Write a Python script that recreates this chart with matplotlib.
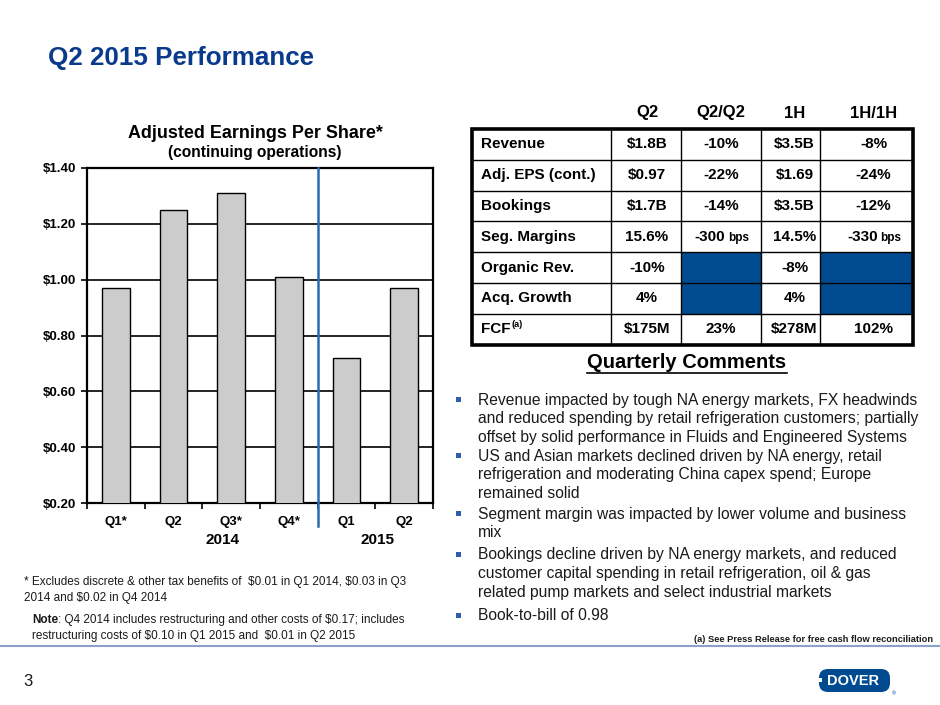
import numpy as np
import matplotlib
matplotlib.use('Agg')
import matplotlib.pyplot as plt
from matplotlib.patches import Rectangle, FancyBboxPatch

plt.rcParams['font.family'] = ['Liberation Sans', 'DejaVu Sans']

# ---- datos ----
quarters = ['Q1*', 'Q2', 'Q3*', 'Q4*', 'Q1', 'Q2']
years = ['2014', '2015']
eps = [0.97, 1.25, 1.31, 1.01, 0.72, 0.97]

col_heads = ['Q2', 'Q2/Q2', '1H', '1H/1H']
row_labels = ['Revenue', 'Adj. EPS (cont.)', 'Bookings', 'Seg. Margins',
              'Organic Rev.', 'Acq. Growth', 'FCF']
q2_vals = ['$1.8B', '$0.97', '$1.7B', '15.6%', '-10%', '4%', '$175M']
q2q2_vals = ['-10%', '-22%', '-14%', '-300 bps', None, None, '23%']
h1_vals = ['$3.5B', '$1.69', '$3.5B', '14.5%', '-8%', '4%', '$278M']
h1h1_vals = ['-8%', '-24%', '-12%', '-330 bps', None, None, '102%']

bullets = [
    ['Revenue impacted by tough NA energy markets, FX headwinds',
     'and reduced spending by retail refrigeration customers; partially',
     'offset by solid performance in Fluids and Engineered Systems'],
    ['US and Asian markets declined driven by NA energy, retail',
     'refrigeration and moderating China capex spend; Europe',
     'remained solid'],
    ['Segment margin was impacted by lower volume and business',
     'mix'],
    ['Bookings decline driven by NA energy markets, and reduced',
     'customer capital spending in retail refrigeration, oil & gas',
     'related pump markets and select industrial markets'],
    ['Book-to-bill of 0.98'],
]

NAVY = '#0a3a8c'
BLUE = '#004a8f'
TXT = '#1a1a1a'

fig = plt.figure(figsize=(9.4, 7.05), dpi=100)

# capa en pixeles para el resto de la diapositiva
ax0 = fig.add_axes([0, 0, 1, 1])
ax0.set_xlim(0, 940)
ax0.set_ylim(705, 0)
ax0.axis('off')

ax0.text(48, 58, 'Q2 2015 Performance', fontsize=18.7, fontweight='bold',
         color=NAVY, va='center', ha='left')

# ---- grafico de barras ----
L, R, T, B = 87, 433, 168, 503
ax = fig.add_axes([L / 940, 1 - B / 705, (R - L) / 940, (B - T) / 705])
x = np.arange(len(eps))
ax.bar(x, eps, width=0.48, color='#cccccc', edgecolor='black',
       linewidth=1.0, zorder=3, bottom=0)
ax.set_xlim(-0.5, len(eps) - 0.5)
ax.set_ylim(0.2, 1.4)
ax.set_yticks(np.arange(0.2, 1.41, 0.2))
ax.set_yticklabels(['$%.2f' % v for v in np.arange(0.2, 1.41, 0.2)],
                   fontsize=9.5, fontweight='bold')
ax.yaxis.grid(True, color='black', linewidth=1.2, zorder=1)
ax.set_axisbelow(True)
ax.set_xticks(x)
ax.set_xticklabels(quarters, fontsize=9.5, fontweight='bold')
ax.set_xticks(np.arange(-0.5, len(eps), 1), minor=True)
ax.tick_params(axis='x', which='major', length=0, pad=9)
ax.tick_params(axis='x', which='minor', length=4, width=1.2, direction='out')
ax.tick_params(axis='y', length=4, width=1.2, pad=4)
for s in ax.spines.values():
    s.set_linewidth(1.6)
ax.axvline(3.5, ymin=-0.07, ymax=1, color='#2e6aad', linewidth=1.8,
           clip_on=False, zorder=4)
for yr, xp in zip(years, [1.85, 4.53]):
    ax.text(xp, -0.11, yr, transform=ax.get_xaxis_transform(), ha='center',
            va='center', fontsize=11, fontweight='bold')

ax0.text(255, 133, 'Adjusted Earnings Per Share*', fontsize=12.9,
         fontweight='bold', ha='center', va='center')
ax0.text(255, 153, '(continuing operations)', fontsize=11.2,
         fontweight='bold', ha='center', va='center')

# ---- tabla ----
col_x = [472, 611, 681, 761, 820, 913]
row_y = np.linspace(129, 344.5, len(row_labels) + 1)
cols = [q2_vals, q2q2_vals, h1_vals, h1h1_vals]
col_shift = [1, 0, 4, 7]

for j, h in enumerate(col_heads):
    ax0.text((col_x[j + 1] + col_x[j + 2]) / 2 + col_shift[j], 113, h,
             fontsize=12, fontweight='bold', ha='center', va='center')

for i, lab in enumerate(row_labels):
    yc = (row_y[i] + row_y[i + 1]) / 2
    ax0.text(481, yc, lab, fontsize=11, fontweight='bold', ha='left',
             va='center')
    if lab == 'FCF':
        ax0.text(511, yc - 5, '(a)', fontsize=6.5, fontweight='bold',
                 ha='left', va='center')
    for j, vals in enumerate(cols):
        x0, x1 = col_x[j + 1], col_x[j + 2]
        xc = (x0 + x1) / 2 + col_shift[j]
        v = vals[i]
        if v is None:
            ax0.add_patch(Rectangle((x0, row_y[i]), x1 - x0,
                                    row_y[i + 1] - row_y[i],
                                    facecolor=BLUE, edgecolor='none'))
        elif v.endswith(' bps'):
            ax0.text(xc + 4, yc, v.split()[0], fontsize=11,
                     fontweight='bold', ha='right', va='center')
            ax0.text(xc + 7, yc + 1, 'bps', fontsize=8.5,
                     fontweight='bold', ha='left', va='center')
        else:
            ax0.text(xc, yc, v, fontsize=11, fontweight='bold',
                     ha='center', va='center')

for yy in row_y[1:-1]:
    ax0.plot([col_x[0], col_x[-1]], [yy, yy], color='black', lw=1.0)
for xx in col_x[1:-1]:
    ax0.plot([xx, xx], [row_y[0], row_y[-1]], color='black', lw=1.0)
ax0.add_patch(Rectangle((col_x[0], row_y[0]), col_x[-1] - col_x[0],
                        row_y[-1] - row_y[0], fill=False,
                        edgecolor='black', lw=2.6))

# ---- comentarios ----
t = ax0.text(687, 363, 'Quarterly Comments', fontsize=14.5,
             fontweight='bold', ha='center', va='center')
fig.canvas.draw()
rend = fig.canvas.get_renderer()
bb = t.get_window_extent(renderer=rend)
(ux0, _), (ux1, _) = ax0.transData.inverted().transform(
    [[bb.x0, bb.y0], [bb.x1, bb.y0]])
ax0.plot([ux0, ux1], [372.5, 372.5], color='black', lw=1.2)

starts = [400, 456, 514, 555, 616]
for lines, y0 in zip(bullets, starts):
    ax0.add_patch(Rectangle((455.5, y0 - 3), 5, 5, facecolor='#2f5fa8',
                            edgecolor='none'))
    for k, ln in enumerate(lines):
        ax0.text(478, y0 + k * 18.6, ln, fontsize=11.25, color=TXT,
                 ha='left', va='center')

# ---- notas ----
fn = dict(fontsize=8.5, color=TXT, va='center', parse_math=False)
ax0.text(24, 582, '* Excludes discrete & other tax benefits of  $0.01 in Q1 '
         '2014, $0.03 in Q3', **fn)
ax0.text(24, 598, '2014 and $0.02 in Q4 2014', **fn)
nt = ax0.text(32, 620, 'Note', fontweight='bold', **fn)
fig.canvas.draw()
nb = nt.get_window_extent(renderer=rend)
nx1 = ax0.transData.inverted().transform([[nb.x1, nb.y0]])[0][0]
ax0.text(nx1, 620, ': Q4 2014 includes restructuring and other costs of '
         '$0.17; includes', **fn)
ax0.text(32, 636, 'restructuring costs of $0.10 in Q1 2015 and  $0.01 in '
         'Q2 2015', **fn)
ax0.text(933, 639, '(a) See Press Release for free cash flow reconciliation',
         fontsize=6.7, fontweight='bold', color=TXT, ha='right', va='center')

ax0.plot([0, 940], [646, 646], color='#8da2c8', lw=1.5)
ax0.text(28, 681, '3', fontsize=12, color=TXT, ha='center', va='center')

# ---- logo ----
ax0.add_patch(FancyBboxPatch((819, 669), 71, 23,
                             boxstyle='round,pad=0,rounding_size=9',
                             facecolor=BLUE, edgecolor='none'))
ax0.add_patch(Rectangle((816, 678), 6, 4, facecolor='white',
                        edgecolor='none'))
ax0.text(853, 681, 'DOVER', fontsize=10.5, fontweight='bold', color='white',
         ha='center', va='center')
ax0.text(892, 694, '\u00ae', fontsize=4, color=BLUE, ha='left', va='center')

fig.savefig('out.png', dpi=100)
